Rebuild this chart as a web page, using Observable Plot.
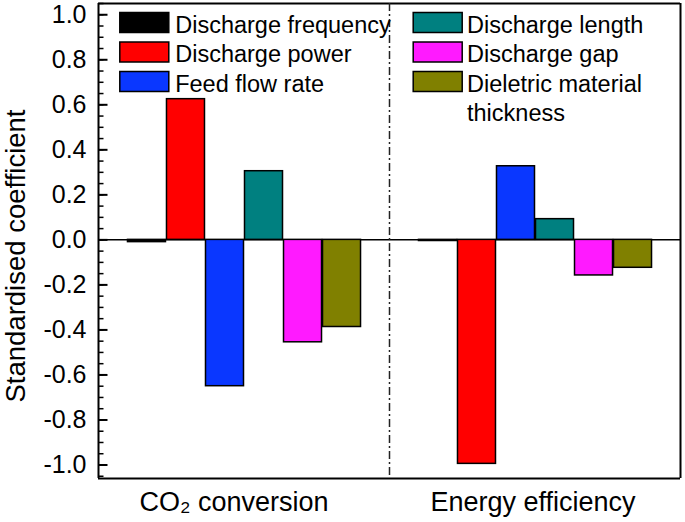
<!DOCTYPE html>
<html><head><meta charset="utf-8">
<script src="https://cdn.jsdelivr.net/npm/d3@7"></script>
<script src="https://cdn.jsdelivr.net/npm/@observablehq/plot@0.6"></script>
<style>body{margin:0;background:#fff} #chart{width:685px;height:522px;background:#fff} #chart svg{font-family:'Liberation Sans', Arial, Helvetica, sans-serif}</style>
</head><body><div id="chart"></div>
<script>
// ---- data ----
const groups = ["CO₂ conversion", "Energy efficiency"];
const variables = ["Discharge frequency", "Discharge power", "Feed flow rate", "Discharge length", "Discharge gap", "Dieletric material thickness"];
const legendLabels = ["Discharge frequency", "Discharge power", "Feed flow rate", "Discharge length", "Discharge gap", "Dieletric material\nthickness"];
const colors = ["#000000", "#ff0000", "#0a37ff", "#008080", "#ff1aff", "#808000"];
const co2Values = [-0.01, 0.625, -0.65, 0.305, -0.455, -0.387];
const energyValues = [-0.005, -0.995, 0.327, 0.092, -0.158, -0.124];
const majorTicks = [-1.0, -0.8, -0.6, -0.4, -0.2, 0.0, 0.2, 0.4, 0.6, 0.8, 1.0];
const minorTicks = d3.range(-21, 22).map(k => +(k * 0.05).toFixed(2));
const yTitle = "Standardised coefficient";

// ---- table ----
const table = [];
[co2Values, energyValues].forEach((vals, gi) => vals.forEach((v, i) => table.push({group: groups[gi], variable: variables[i], index: i, value: v})));

const W = 685, H = 522, mL = 98, mR = 5, mT = 3, mB = 44;
const yDomain = [-1.06, 1.05];
const xDomain = [-0.73, 6.73];
const unitsPerPx = (xDomain[1] - xDomain[0]) / ((W - mL - mR) / groups.length);

const swatch = {draw(ctx) { ctx.moveTo(-24.5, -10); ctx.lineTo(24.5, -10); ctx.lineTo(24.5, 10); ctx.lineTo(-24.5, 10); ctx.closePath(); }};

const legendMarks = legendLabels.flatMap((label, i) => {
  const col = Math.floor(i / 3), row = i % 3;
  const item = [{g: groups[col], label}];
  const dy = 19 + row * 29.5;
  return [
    Plot.dot(item, {fx: "g", frameAnchor: "top-left", dx: col ? 48.2 : 45.8, dy, symbol: swatch, fill: colors[i], stroke: "#000", strokeWidth: 1.5}),
    Plot.text(item, {fx: "g", frameAnchor: "top-left", dx: col ? 77.5 : 76.7, dy: dy - 11, text: "label", textAnchor: "start", lineAnchor: "top", lineHeight: 1.26, fontSize: 23.5, fill: "#000"})
  ];
});

const groupLabelMarks = groups.map((g, gi) =>
  Plot.text([{g}], {fx: "g", text: "g", frameAnchor: "bottom", lineAnchor: "top", dy: 13, dx: gi === 0 ? -10 : -2, fontSize: 27, fill: "#000"})
);

// inward y ticks as short links in data space (left facet only)
const tickData = (ticks, len) => ticks.map(v => ({g: groups[0], v, x1: xDomain[0], x2: xDomain[0] + len * unitsPerPx}));

const chart = Plot.plot({
  width: W,
  height: H,
  marginLeft: mL,
  marginRight: mR,
  marginTop: mT,
  marginBottom: mB,
  style: {fontSize: "25px"},
  fx: {domain: groups, padding: 0, label: null, axis: null},
  x: {domain: xDomain, axis: null},
  y: {domain: yDomain, label: null},
  color: {domain: variables, range: colors},
  marks: [
    Plot.ruleY([0], {stroke: "#000", strokeWidth: 1.5}),
    Plot.rectY(table, {fx: "group", x: "index", interval: 1, y: "value", fill: "variable", stroke: "#000", strokeWidth: 1.5}),
    // frame
    Plot.ruleY([yDomain[1]], {stroke: "#000", strokeWidth: 2}),
    Plot.ruleY([yDomain[0]], {stroke: "#000", strokeWidth: 2}),
    Plot.ruleX([{g: groups[0], x: xDomain[0]}], {fx: "g", x: "x", stroke: "#000", strokeWidth: 2}),
    Plot.ruleX([{g: groups[1], x: xDomain[1]}], {fx: "g", x: "x", stroke: "#000", strokeWidth: 2}),
    // divider
    Plot.ruleX([{g: groups[1], x: xDomain[0]}], {fx: "g", x: "x", stroke: "#222", strokeWidth: 1.5, strokeDasharray: "8,3,2,3"}),
    // y axis: inward ticks + labels
    Plot.link(tickData(minorTicks, 5), {fx: "g", x1: "x1", x2: "x2", y1: "v", y2: "v", stroke: "#000", strokeWidth: 1.5}),
    Plot.link(tickData(majorTicks, 9), {fx: "g", x1: "x1", x2: "x2", y1: "v", y2: "v", stroke: "#000", strokeWidth: 2}),
    Plot.axisY(majorTicks, {anchor: "left", tickSize: 0, tickPadding: 12, tickFormat: d => d.toFixed(1), label: null, fontSize: 25}),
    Plot.text([{g: groups[0], t: yTitle}], {fx: "g", text: "t", frameAnchor: "left", textAnchor: "middle", rotate: -90, dx: -82, dy: 15, fontSize: 27.5, fill: "#000"}),
    // x labels
    ...groupLabelMarks,
    ...legendMarks
  ]
});
document.getElementById("chart").append(chart);
</script>
</body></html>
